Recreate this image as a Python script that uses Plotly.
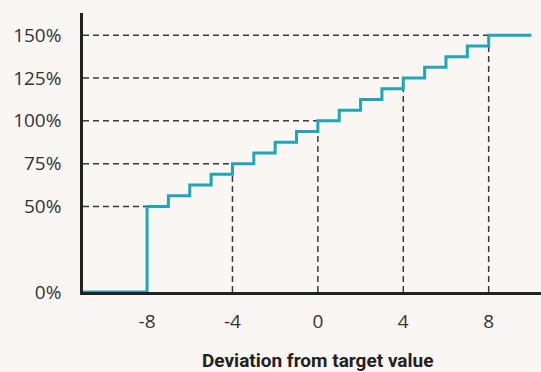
import plotly.graph_objects as go

# Deviation from target value and the resulting payout share (%)
deviation = [-11, -8, -7, -6, -5, -4, -3, -2, -1, 0, 1, 2, 3, 4, 5, 6, 7, 8, 10]
payout_pct = [0, 50, 56.25, 62.5, 68.75, 75, 81.25, 87.5, 93.75, 100,
              106.25, 112.5, 118.75, 125, 131.25, 137.5, 143.75, 150, 150]

# Reference points marked with dashed guide lines
guide_x = [-8, -4, 0, 4, 8]
guide_y = [50, 75, 100, 125, 150]

x_ticks = [-8, -4, 0, 4, 8]
x_tick_labels = ["-8", "-4", "0", "4", "8"]
y_ticks = [0, 50, 75, 100, 125, 150]
y_tick_labels = ["0%", "50%", "75%", "100%", "125%", "150%"]

BG = "#f9f6f3"
TEAL = "#22a6b5"
INK = "#222222"

fig = go.Figure()

x_min, x_max = -11, 10.45
y_min, y_max = 0, 163

shapes = []
for gx, gy in zip(guide_x, guide_y):
    shapes.append(dict(type="line", xref="x", yref="y", x0=x_min, x1=gx, y0=gy, y1=gy,
                       line=dict(color="#3a3a3a", width=1.5, dash="6px,4px"), layer="below"))
    shapes.append(dict(type="line", xref="x", yref="y", x0=gx, x1=gx, y0=y_min, y1=gy,
                       line=dict(color="#3a3a3a", width=1.5, dash="6px,4px"), layer="below"))

fig.add_trace(go.Scatter(
    x=deviation, y=payout_pct, mode="lines",
    line=dict(color=TEAL, width=3, shape="hv"),
    hoverinfo="skip", showlegend=False, cliponaxis=False,
))

tick_font = dict(family="Open Sans, sans-serif", size=19, color="#333333")

fig.update_layout(
    width=541, height=372,
    margin=dict(l=83, r=0, t=13, b=80),
    paper_bgcolor=BG, plot_bgcolor=BG,
    font=dict(family="Open Sans, sans-serif", size=19, color="#333333"),
    shapes=shapes,
    xaxis=dict(range=[x_min, x_max], tickvals=x_ticks, ticktext=x_tick_labels,
               tickfont=tick_font, showgrid=False, zeroline=False,
               showline=True, linecolor=INK, linewidth=2.5, ticks="", ticklabelstandoff=10,
               fixedrange=True),
    yaxis=dict(range=[y_min, y_max], tickvals=y_ticks, ticktext=y_tick_labels,
               tickfont=tick_font, showgrid=False, zeroline=False, showline=True,
               linecolor=INK, linewidth=2.5, ticks="", ticklabelstandoff=15, fixedrange=True),
    annotations=[dict(text="<b>Deviation from target value</b>", x=0, xref="x",
                      y=-0.245, yref="paper", yanchor="middle", showarrow=False,
                      font=dict(size=19, color=INK, family="Roboto, sans-serif"))],
)

fig.write_html("out.html")
